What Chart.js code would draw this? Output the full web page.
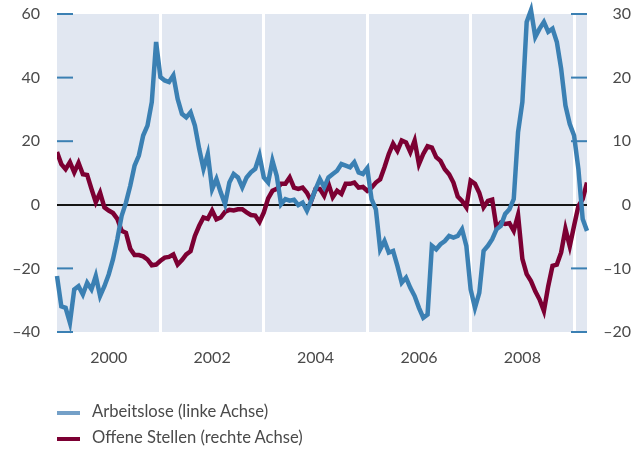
<!DOCTYPE html>
<html>
<head>
<meta charset="utf-8">
<script src="https://cdn.jsdelivr.net/npm/chart.js@4/dist/chart.umd.min.js"></script>
<style>
  html, body { margin: 0; padding: 0; background: #fff; }
  #wrap { position: relative; width: 631px; height: 450px; }
  #legend { position: absolute; left: 57px; top: 398px; font-family: Lato, sans-serif; font-size: 16.6px; color: #4a4a4a; }
  #legend .item { height: 26px; line-height: 26px; white-space: nowrap; }
  #legend .sw { display: inline-block; width: 23px; height: 4px; margin-right: 12px; vertical-align: middle; }
</style>
</head>
<body>
<div id="wrap">
  <canvas id="chart" width="631" height="450"></canvas>
  <div id="legend"></div>
</div>
<script>
// monthly, Jan 1999 - Apr 2009 (index 0 = Jan 1999)
const yearLabels = ['2000', '2002', '2004', '2006', '2008'];
const labelIdx = [12, 36, 60, 84, 108];
const gridIdx = [24, 48, 72, 96, 120];
const leftTicks = [-40, -20, 0, 20, 40, 60];
const rightTicks = [-20, -10, 0, 10, 20, 30];
const seriesNames = ['Arbeitslose (linke Achse)', 'Offene Stellen (rechte Achse)'];

// Arbeitslose, linke Achse
const arbeitslose = [
  -22.4, -31.9, -32.4, -37.1, -26.6, -25.6, -28.2, -24.5, -26.6, -22.4, -28.7, -25.6,
  -21.9, -17.1, -10.8, -3.5, 0.7, 6.0, 12.3, 15.5, 21.8, 24.9, 32.3, 51.2,
  40.2, 39.1, 38.6, 40.7, 33.3, 28.6, 27.5, 29.1, 24.9, 17.6, 11.3, 16.0,
  4.9, 8.1, 3.9, 0.2, 7.0, 9.7, 8.6, 5.5, 8.6, 10.2, 11.3, 15.5,
  8.6, 7.0, 13.9, 9.1, 0.2, 1.8, 1.3, 1.6, -0.1, 0.7, -1.9, 1.3,
  4.9, 8.1, 5.5, 8.6, 9.7, 10.7, 12.8, 12.3, 11.8, 13.4, 10.2, 9.7,
  11.5, 1.8, -1.4, -14.0, -11.4, -15.0, -14.5, -19.2, -24.5, -22.9, -26.1, -28.7,
  -32.4, -35.5, -34.5, -12.9, -14.0, -12.4, -11.4, -9.8, -10.3, -9.8, -7.7, -12.9,
  -26.6, -32.4, -27.7, -14.5, -12.9, -10.8, -7.7, -6.6, -2.9, -1.4, 1.8, 22.8,
  32.3, 57.5, 61.2, 52.8, 55.4, 57.5, 54.4, 55.4, 51.2, 42.8, 31.2, 25.4,
  21.8, 11.3, -4.5, -8.2
];

// Offene Stellen, rechte Achse
const offeneStellen = [
  8.3, 6.4, 5.6, 6.7, 5.1, 6.6, 4.8, 4.7, 2.5, 0.4, 1.9, -0.4,
  -0.9, -1.3, -2.2, -4.1, -4.4, -6.9, -7.9, -7.9, -8.1, -8.6, -9.5, -9.4,
  -8.8, -8.3, -8.2, -7.8, -9.4, -8.7, -7.8, -7.3, -4.9, -3.3, -2.0, -2.2,
  -0.9, -2.3, -2.0, -1.1, -0.8, -0.9, -0.7, -0.7, -1.2, -1.6, -1.7, -2.7,
  -1.2, 1.0, 2.2, 2.5, 3.3, 3.3, 4.3, 2.7, 2.5, 2.7, 1.9, 0.6,
  2.5, 2.5, 1.4, 3.3, 1.2, 2.2, 1.7, 3.3, 3.3, 3.5, 2.7, 2.8,
  2.2, 2.7, 3.5, 4.0, 5.9, 8.0, 9.6, 8.5, 10.1, 9.8, 8.3, 10.1,
  6.4, 8.0, 9.2, 9.0, 7.5, 6.9, 5.6, 4.8, 3.5, 1.3, 0.6, -0.4,
  3.8, 3.3, 1.9, -0.4, 0.6, 0.8, -3.6, -2.8, -3.0, -2.9, -4.1, -1.6,
  -8.5, -10.9, -12.0, -13.6, -14.9, -16.7, -12.8, -9.6, -9.4, -7.5, -3.8, -6.5,
  -3.3, -0.2, 0.9, 3.5
];

const blue = '#3b80b3';
const maroon = '#7c0033';
const textColor = '#4a4a4a';
const tickFont = { family: 'Lato', size: 16 };

function fmt(v) {
  return v < 0 ? '\u2013' + Math.abs(v) : String(v);
}

// background of the plot and the short blue ticks inside it
const plotDeco = {
  id: 'plotDeco',
  beforeDraw(chart) {
    const { ctx, chartArea: a } = chart;
    ctx.save();
    ctx.fillStyle = '#e1e7f1';
    ctx.fillRect(a.left, a.top, a.right - a.left, a.bottom - a.top);
    ctx.restore();
  },
  beforeDatasetsDraw(chart) {
    const { ctx, chartArea: a, scales } = chart;
    ctx.save();
    ctx.strokeStyle = blue;
    ctx.lineWidth = 2;
    scales.y.ticks.forEach(t => {
      if (t.value === 0) return;
      const y = scales.y.getPixelForValue(t.value);
      ctx.beginPath();
      ctx.moveTo(a.left, y);
      ctx.lineTo(a.left + 16, y);
      ctx.stroke();
    });
    scales.y2.ticks.forEach(t => {
      if (t.value === 0) return;
      const y = scales.y2.getPixelForValue(t.value);
      ctx.beginPath();
      ctx.moveTo(a.right - 16, y);
      ctx.lineTo(a.right, y);
      ctx.stroke();
    });
    ctx.restore();
  }
};

const points = arr => arr.map((v, i) => ({ x: i, y: v }));

// y axes: fixed width, no extra label overhang at top/bottom
const fitY = w => s => {
  s.width = w;
  s.paddingTop = 0;
  s.paddingBottom = 0;
};

const ctx = document.getElementById('chart').getContext('2d');
const chart = new Chart(ctx, {
  type: 'line',
  data: {
    datasets: [
      {
        label: seriesNames[0],
        data: points(arbeitslose),
        borderColor: blue,
        borderWidth: 4.5,
        pointRadius: 0,
        tension: 0,
        yAxisID: 'y',
        xAxisID: 'x',
        clip: false
      },
      {
        label: seriesNames[1],
        data: points(offeneStellen),
        borderColor: maroon,
        borderWidth: 4.5,
        pointRadius: 0,
        tension: 0,
        yAxisID: 'y2',
        xAxisID: 'x'
      }
    ]
  },
  options: {
    responsive: false,
    animation: false,
    layout: { padding: { top: 14, right: 0, bottom: 78, left: 0 } },
    plugins: { legend: { display: false }, tooltip: { enabled: false } },
    scales: {
      x: {
        type: 'linear',
        position: 'bottom',
        min: 0,
        max: 123,
        afterBuildTicks: s => { s.ticks = labelIdx.map(v => ({ value: v })); },
        ticks: {
          callback: (v, i) => yearLabels[i],
          autoSkip: false,
          maxRotation: 0,
          padding: 16,
          color: textColor,
          font: tickFont
        },
        grid: { display: false, drawTicks: false },
        border: { display: false },
        afterFit: s => { s.height = 40; s.paddingLeft = 0; s.paddingRight = 0; }
      },
      xg: {
        type: 'linear',
        position: 'bottom',
        min: 0,
        max: 123,
        afterBuildTicks: s => { s.ticks = gridIdx.map(v => ({ value: v })); },
        ticks: { display: false },
        grid: { color: '#ffffff', lineWidth: 3, drawTicks: false },
        border: { display: false },
        afterFit: s => { s.height = 0; }
      },
      y: {
        position: 'left',
        min: -40,
        max: 60,
        afterBuildTicks: s => { s.ticks = leftTicks.map(v => ({ value: v })); },
        ticks: { callback: v => fmt(v), padding: 17, color: textColor, font: tickFont },
        grid: {
          color: c => (c.tick && c.tick.value === 0 ? '#151515' : 'rgba(0,0,0,0)'),
          lineWidth: 2,
          drawTicks: false
        },
        border: { display: false },
        afterFit: fitY(57)
      },
      y2: {
        position: 'right',
        min: -20,
        max: 30,
        afterBuildTicks: s => { s.ticks = rightTicks.map(v => ({ value: v })); },
        ticks: { callback: v => fmt(v), padding: 19, crossAlign: 'far', color: textColor, font: tickFont },
        grid: { display: false, drawTicks: false },
        border: { display: false },
        afterFit: fitY(44)
      }
    }
  },
  plugins: [plotDeco]
});

// legend below the chart
const legendColors = ['#74a0c8', maroon];
const legend = document.getElementById('legend');
seriesNames.forEach((name, i) => {
  const item = document.createElement('div');
  item.className = 'item';
  const sw = document.createElement('span');
  sw.className = 'sw';
  sw.style.background = legendColors[i];
  item.appendChild(sw);
  item.appendChild(document.createTextNode(name));
  legend.appendChild(item);
});
</script>
</body>
</html>
